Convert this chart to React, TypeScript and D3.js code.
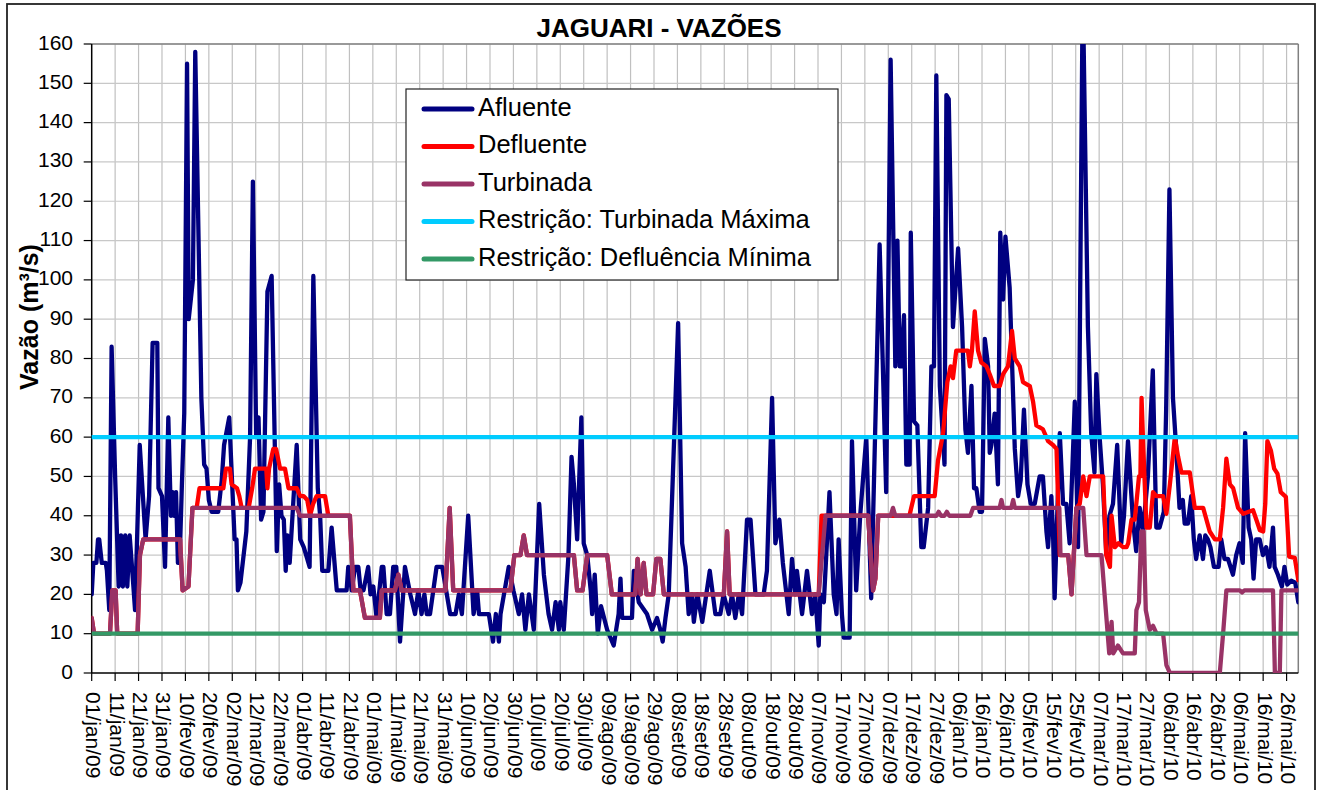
import React, { useEffect, useRef } from "react";
import * as d3 from "d3";

// dias contados a partir de 01/jan/2009
const mesesPt = ["jan", "fev", "mar", "abr", "mai", "jun", "jul", "ago", "set", "out", "nov", "dez"];
const inicio = new Date(2009, 0, 1);
const ultimoDia = 515;
const diasTicks = d3.range(0, 511, 10);
const yTicks = d3.range(0, 161, 10);

const afluente: [number, number][] = [
  [0, 20], [0.7, 28], [2, 28], [2.7, 34], [3.2, 34], [4.3, 28], [6, 28], [6.5, 26], [7.5, 16], [8.5, 83],
  [10, 50], [11.5, 22], [12.5, 35], [13.3, 22], [14.3, 35], [15.2, 22], [16.2, 35], [17.8, 22], [18.5, 16], [20.5, 58],
  [23, 34], [24.5, 45], [26, 84], [28, 84], [28.5, 47], [30, 45], [31.3, 27], [32.7, 65], [33.8, 40], [34.5, 46],
  [35.2, 40], [36, 46], [36.8, 28], [37.5, 28], [38.5, 48], [39.5, 66], [40.7, 155], [41.4, 90], [43.2, 100], [44.2, 158],
  [46.8, 70], [48, 53], [49, 52], [50, 44], [51.2, 41], [54, 41], [55.5, 49], [56.5, 58], [58.7, 65], [61, 34],
  [61.8, 34], [62.4, 21], [63.5, 23], [66, 36], [67.6, 60], [68.8, 125], [70.2, 60], [71.2, 65], [72.3, 39], [73.3, 41],
  [75, 97], [76.8, 101], [79, 31], [80, 48], [81, 40], [82, 39], [82.8, 26], [83.5, 35], [84.5, 28], [87.5, 58],
  [89, 34], [90.5, 32], [92, 29], [93, 27], [94.6, 101], [96.5, 47], [97.5, 40], [98.4, 26], [101, 26], [102.4, 37],
  [104.6, 21], [108.8, 21], [109.5, 27], [111, 21], [112.4, 27], [113.8, 27], [114.8, 21], [116, 21], [118, 27], [119, 20],
  [120.2, 22], [121.6, 14], [123.8, 27], [124.5, 27], [125.9, 15], [127.3, 15], [128.7, 27], [130, 27], [131.6, 8], [133.7, 27],
  [136, 20], [138, 15], [139.4, 21], [140.8, 15], [142, 20], [143, 15], [144.4, 15], [147.2, 27], [149.6, 27], [153, 15],
  [155.3, 15], [156.7, 20], [158, 15], [160.7, 40], [163, 15], [164.5, 21], [165.3, 15], [169.5, 15], [171.3, 8], [172.5, 15],
  [173.8, 8], [174.5, 15], [178, 27], [180, 21], [182.3, 15], [183.7, 20], [185.1, 11], [186.6, 20], [188.7, 11], [191, 43],
  [193, 25], [195, 15], [196.5, 11], [198, 18], [199.4, 11], [200, 18], [201.5, 11], [203.5, 30], [204.8, 55], [205.8, 48],
  [207.2, 34], [209, 65], [210, 33], [211.5, 30], [213, 21], [213.6, 15], [214.7, 25], [216, 10], [217.4, 17], [220, 11],
  [222.8, 7], [224.9, 15], [225.7, 24], [226.4, 14], [230.6, 14], [231.4, 26], [233.5, 18], [237, 15], [239.2, 11], [241.3, 14],
  [242.7, 11], [243.7, 8], [244.9, 14], [246.3, 20], [250.3, 89], [252, 33], [253.5, 27], [254.8, 15], [256.2, 20], [257, 13],
  [258.5, 20], [260.6, 13], [263.8, 26], [266.2, 15], [268.3, 15], [269.7, 20], [271.9, 15], [273.3, 20], [274.7, 14], [276.2, 20],
  [277.6, 15], [279.7, 39], [281.2, 39], [283.3, 20], [286.8, 20], [288.2, 26], [290.4, 70], [291.8, 33], [293.5, 39], [295, 28],
  [297.5, 15], [298.9, 29], [300.3, 20], [301, 26], [303.2, 15], [305.3, 26], [307.4, 15], [308.8, 20], [310.3, 7], [311, 20],
  [312.5, 18], [314.9, 46], [316.7, 20], [317.9, 15], [318.8, 34], [320.2, 15], [321, 9], [323.5, 9], [324.5, 59], [326.3, 21],
  [328, 40], [330.6, 60], [332.7, 19], [336.3, 109], [339.1, 46], [341, 156], [343, 78], [343.9, 110], [344.9, 78], [345.6, 78],
  [346.7, 91], [347.7, 53], [349.1, 53], [349.6, 112], [351, 64], [352.4, 63], [354.1, 32], [355.1, 32], [357, 42], [358.4, 78],
  [359.5, 78], [360.5, 152], [362, 73], [364, 53], [364.8, 147], [365.8, 146], [367.6, 88], [369.8, 108], [371.5, 88], [372.9, 62],
  [374, 56], [375.5, 73], [376.6, 47], [377.6, 47], [379, 41], [380, 41], [381.2, 85], [382.6, 78], [383.3, 56], [384, 58],
  [385.4, 66], [386.8, 48], [387.8, 112], [389, 95], [390, 111], [391.8, 98], [394, 57], [395.4, 45], [396.5, 49], [397.9, 67],
  [399.4, 48], [400.8, 43], [402.5, 43], [404.6, 50], [406, 50], [407.5, 36], [408.2, 32], [409.6, 45], [410.3, 36], [411, 19],
  [413.2, 61], [414.6, 43], [416, 43], [417.4, 33], [419.6, 69], [421, 32], [423, 175], [425.2, 88], [426.6, 61], [428, 51],
  [428.8, 76], [430.2, 60], [431.6, 48], [433, 31], [434.4, 40], [435.9, 43], [437.7, 58], [439.4, 33], [440.6, 40], [442.3, 59],
  [444.4, 39], [445.8, 31], [447.3, 42], [448.7, 36], [450.8, 50], [452.9, 77], [454.4, 37], [455.8, 37], [457.6, 41], [458.6, 67],
  [460, 123], [461.5, 70], [462.9, 57], [464.3, 42], [465.7, 44], [466.5, 38], [467.9, 38], [469.3, 45], [470.4, 34], [471.4, 29],
  [472.9, 35], [474.3, 29], [475.3, 35], [476.4, 34], [477.5, 32], [479, 27], [481, 27], [482.1, 34], [483.5, 29], [485, 29],
  [487.1, 25], [488.5, 30], [489.9, 33], [491.3, 28], [492.3, 61], [493.8, 37], [494.9, 34], [495.9, 24], [497, 34], [498.5, 34],
  [499.9, 30], [501.3, 32], [502.7, 27], [504.2, 37], [504.9, 27], [506.3, 25], [508, 22], [509.1, 27], [510.3, 22.5], [512, 23.5],
  [513.7, 23], [515, 18],
];

const turbinada: [number, number][] = [
  [0, 14], [1, 10], [7.8, 10], [8.8, 21], [10.2, 21], [10.9, 10], [19.6, 10], [20.6, 30], [22, 34], [37.7, 34],
  [38.8, 21], [41.3, 22], [43, 42], [87.5, 42], [88.9, 40], [110.2, 40], [111.7, 21], [114.5, 21], [116.6, 14], [123, 14],
  [123.8, 21], [129.4, 21], [130.9, 25], [132.3, 21], [151, 21], [152.8, 42], [154.3, 21], [178.7, 21], [180.4, 30], [183, 30],
  [184.4, 35], [185.8, 30], [205.8, 30], [207.2, 21], [209.5, 21], [211.5, 30], [220, 30], [222, 20], [232, 20], [233, 29],
  [234.3, 20], [235.6, 28], [236.8, 20], [239.6, 20], [241, 29], [242.7, 29], [244.2, 20], [269.8, 20], [271.2, 36], [272.3, 20],
  [310.3, 20], [313.2, 40], [331.4, 40], [333.5, 21], [334.5, 24], [335.7, 40], [341, 40], [342, 42], [343, 40], [360.6, 40],
  [361.5, 41], [362.5, 40], [364, 40], [365, 41], [366, 40], [375, 40], [376.2, 42], [387.5, 42], [388.3, 44], [389, 42],
  [392.5, 42], [393.3, 44], [394, 42], [413, 42], [413.5, 30], [416.8, 30], [418.2, 20], [420.3, 42], [423.2, 42], [424.6, 30],
  [431, 30], [434.3, 5], [435.3, 13], [436, 5], [438, 7], [440.2, 5], [445.2, 5], [445.9, 16], [447, 18], [448, 36],
  [449, 36], [449.9, 16], [451.6, 11], [453, 12], [454.5, 10], [457.3, 10], [458.7, 2], [460.2, 0], [481.5, 0], [482.9, 10],
  [484.3, 21], [490, 21], [491, 20.5], [492, 21], [504.2, 21], [505, 0], [507.1, 0], [507.8, 21], [515, 21],
];

const defluente: [number, number][] = [
  [0, 14], [1, 10], [7.8, 10], [8.8, 21], [10.2, 21], [10.9, 10], [19.6, 10], [20.6, 30], [22, 34], [37.7, 34],
  [38.8, 21], [41.3, 22], [43, 42], [44.8, 42], [46, 47], [56.2, 47], [57.3, 52], [59, 52], [59.7, 48], [62, 47],
  [63, 45], [64, 42], [67, 42], [68.5, 47], [69.7, 52], [74.5, 52], [75, 47], [75.7, 52], [77.5, 57], [78.7, 57],
  [80.4, 52], [82.5, 52], [84, 47], [87.5, 47], [89, 45], [90.5, 45], [92, 44], [93.2, 40], [94.5, 43], [96, 45],
  [99.6, 45], [101, 40], [110.2, 40], [111.7, 21], [114.5, 21], [116.6, 14], [123, 14], [123.8, 21], [129.4, 21], [130.9, 25],
  [132.3, 21], [151, 21], [152.8, 42], [154.3, 21], [178.7, 21], [180.4, 30], [183, 30], [184.4, 35], [185.8, 30], [205.8, 30],
  [207.2, 21], [209.5, 21], [211.5, 30], [220, 30], [222, 20], [232, 20], [233, 29], [234.3, 20], [235.6, 28], [236.8, 20],
  [239.6, 20], [241, 29], [242.7, 29], [244.2, 20], [269.8, 20], [271.2, 36], [272.3, 20], [310.3, 20], [311.5, 40], [331.4, 40],
  [333.5, 21], [334.5, 24], [335.7, 40], [349, 40], [351, 45], [359.8, 45], [361.2, 54], [363.4, 61], [365.2, 74], [366.6, 78],
  [367.6, 75], [369, 82], [374, 82], [374.8, 78], [375.7, 82], [376.9, 92], [378.3, 82], [379.7, 79], [381.9, 78], [383.3, 76],
  [385.1, 73], [387.6, 73], [389, 76], [391.1, 78], [392.8, 87], [394, 80], [396.1, 78], [397.5, 74], [400.4, 73], [401.8, 69],
  [403.2, 63], [406, 62], [408.2, 59], [410.3, 58], [411.8, 57], [413.2, 30], [416.8, 30], [418.2, 20], [420.3, 42], [421.7, 43],
  [423.2, 50], [424.6, 45], [426, 50], [431.7, 50], [433, 30], [434.6, 27], [435.3, 40], [436.7, 32], [438.2, 33], [440.2, 32],
  [441.7, 32], [442.4, 33], [443.8, 39], [445.2, 39], [447, 50], [447.6, 50], [448.1, 70], [448.8, 58], [450.2, 37], [451.6, 37],
  [453, 46], [454.4, 45], [457.3, 45], [458.7, 40.5], [460.2, 48], [462.3, 60], [463.7, 55], [465.1, 51], [468.7, 51], [470.8, 42],
  [474.4, 42], [477.2, 36], [479.4, 34], [481.5, 34], [482.9, 42], [484.3, 54.5], [485.8, 48], [487.2, 47], [489.3, 42], [491.5, 40.5],
  [495.7, 41.4], [497.1, 39], [498.6, 36.3], [500, 36], [500.9, 43], [501.8, 59], [503.3, 56.6], [504.7, 52], [506.1, 50.7], [507.5, 46],
  [509.7, 44.8], [511.1, 29.6], [513.5, 29.3], [515, 23.6],
];

const turbinadaMaxima = 60;
const defluenciaMinima = 10;

const series = [
  { nome: "Afluente", cor: "#000080" },
  { nome: "Defluente", cor: "#FF0000" },
  { nome: "Turbinada", cor: "#993366" },
  { nome: "Restrição: Turbinada Máxima", cor: "#00CCFF" },
  { nome: "Restrição: Defluência Mínima", cor: "#339966" },
];

const fonte = "'Liberation Sans', Arial, Helvetica, sans-serif";

const formataDia = (dia: number) => {
  const d = d3.timeDay.offset(inicio, dia);
  return d3.timeFormat("%d")(d) + "/" + mesesPt[d.getMonth()] + "/" + d3.timeFormat("%y")(d);
};

export default function App() {
  const ref = useRef<SVGSVGElement>(null);

  useEffect(() => {
    const svg = d3.select(ref.current);
    svg.selectAll("*").remove();

    const left = 91.7, right = 1298.3, top = 44, bottom = 673;
    const x = d3.scaleLinear().domain([0, ultimoDia]).range([left, right]);
    const y = d3.scaleLinear().domain([0, 160]).range([bottom, top]);

    // moldura do gráfico
    svg.append("rect").attr("x", 0).attr("y", 0).attr("width", 1320).attr("height", 790).attr("fill", "#fff");
    svg.append("rect")
      .attr("x", 7).attr("y", 4).attr("width", 1308).attr("height", 820)
      .attr("fill", "none").attr("stroke", "#222").attr("stroke-width", 1.8);

    svg.append("text")
      .attr("x", 659).attr("y", 37)
      .attr("text-anchor", "middle")
      .style("font-family", fonte).style("font-size", "26px").style("font-weight", "bold")
      .text("JAGUARI - VAZÕES");

    svg.append("text")
      .attr("transform", "translate(31," + 317 + ")rotate(-90)")
      .attr("text-anchor", "middle").attr("dominant-baseline", "middle")
      .style("font-family", fonte).style("font-size", "25px").style("font-weight", "bold")
      .text("Vazão (m³/s)");

    const g = svg.append("g");

    // grade
    g.selectAll(".gx").data(diasTicks.slice(1)).enter().append("line")
      .attr("x1", (d) => x(d)).attr("x2", (d) => x(d))
      .attr("y1", top).attr("y2", bottom)
      .attr("stroke", "#c0c0c0").attr("stroke-width", 1.2);
    g.selectAll(".gy").data(yTicks.slice(1)).enter().append("line")
      .attr("x1", left).attr("x2", right)
      .attr("y1", (d) => y(d)).attr("y2", (d) => y(d))
      .attr("stroke", "#c8c8c8").attr("stroke-width", 1.2);

    // borda da área de plotagem
    g.append("line").attr("x1", left).attr("x2", right).attr("y1", top).attr("y2", top)
      .attr("stroke", "#808080").attr("stroke-width", 1.5);
    g.append("line").attr("x1", right).attr("x2", right).attr("y1", top).attr("y2", bottom)
      .attr("stroke", "#808080").attr("stroke-width", 1.5);

    // eixos
    g.append("line").attr("x1", left).attr("x2", left).attr("y1", top).attr("y2", bottom)
      .attr("stroke", "#000").attr("stroke-width", 1.5);
    g.append("line").attr("x1", left).attr("x2", right).attr("y1", bottom).attr("y2", bottom)
      .attr("stroke", "#000").attr("stroke-width", 1.5);

    g.selectAll(".ty").data(yTicks).enter().append("line")
      .attr("x1", left - 8).attr("x2", left)
      .attr("y1", (d) => y(d)).attr("y2", (d) => y(d))
      .attr("stroke", "#000").attr("stroke-width", 1.2);
    g.selectAll(".ly").data(yTicks).enter().append("text")
      .attr("x", 73).attr("y", (d) => y(d))
      .attr("text-anchor", "end").attr("dominant-baseline", "middle")
      .style("font-family", fonte).style("font-size", "21px")
      .text((d) => String(d));

    g.selectAll(".tx").data(diasTicks).enter().append("line")
      .attr("x1", (d) => x(d)).attr("x2", (d) => x(d))
      .attr("y1", bottom).attr("y2", bottom + 8)
      .attr("stroke", "#000").attr("stroke-width", 1.2);
    g.selectAll(".lx").data(diasTicks).enter().append("text")
      .attr("transform", (d) => "translate(" + x(d) + "," + 692 + ")rotate(90)")
      .attr("text-anchor", "start").attr("dominant-baseline", "middle")
      .style("font-family", fonte).style("font-size", "21px")
      .text((d) => formataDia(d));

    // séries
    svg.append("clipPath").attr("id", "area-plot")
      .append("rect").attr("x", left).attr("y", top).attr("width", right - left).attr("height", bottom - top);

    const linha = d3.line<[number, number]>()
      .x((d) => x(d[0]))
      .y((d) => y(d[1]));

    const dados: [number, number][][] = [
      afluente,
      defluente,
      turbinada,
      [[0, turbinadaMaxima], [ultimoDia, turbinadaMaxima]],
      [[0, defluenciaMinima], [ultimoDia, defluenciaMinima]],
    ];

    const gs = svg.append("g").attr("clip-path", "url(#area-plot)");
    dados.forEach((d, i) => {
      gs.append("path")
        .datum(d)
        .attr("d", linha)
        .attr("fill", "none")
        .attr("stroke", series[i].cor)
        .attr("stroke-width", 4.3)
        .attr("stroke-linejoin", "round")
        .attr("stroke-linecap", "round");
    });

    // legenda
    const leg = svg.append("g");
    leg.append("rect")
      .attr("x", 406).attr("y", 89).attr("width", 432).attr("height", 191)
      .attr("fill", "#fff").attr("stroke", "#222").attr("stroke-width", 1.2);
    series.forEach((s, i) => {
      const cy = 109 + i * 37.5;
      leg.append("line")
        .attr("x1", 424).attr("x2", 472).attr("y1", cy).attr("y2", cy)
        .attr("stroke", s.cor).attr("stroke-width", 5).attr("stroke-linecap", "round");
      leg.append("text")
        .attr("x", 478).attr("y", cy)
        .attr("dominant-baseline", "middle")
        .style("font-family", fonte).style("font-size", "25.5px")
        .text(s.nome);
    });
  }, []);

  return (
    <div style={{ position: "absolute", left: 0, top: 0 }}>
      <svg ref={ref} width={1320} height={790} style={{ display: "block" }} />
    </div>
  );
}
